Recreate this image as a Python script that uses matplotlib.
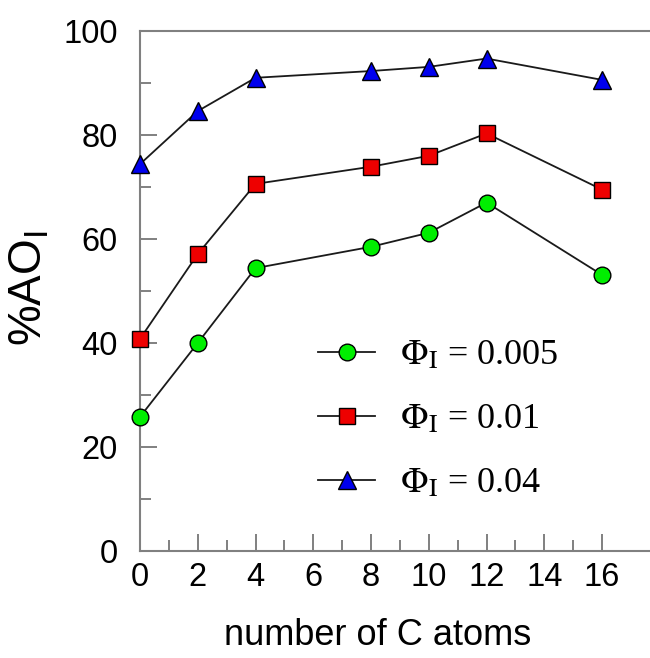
import matplotlib
matplotlib.use('Agg')
import matplotlib.pyplot as plt
from matplotlib.ticker import MultipleLocator

carbons = [0, 2, 4, 8, 10, 12, 16]
ao_0005 = [25.8, 40.0, 54.4, 58.5, 61.2, 67.0, 53.1]
ao_001 = [40.8, 57.1, 70.6, 73.9, 76.0, 80.3, 69.5]
ao_004 = [74.4, 84.6, 91.0, 92.3, 93.1, 94.7, 90.6]
labels = [r'$\Phi_{\mathrm{I}}$ = 0.005', r'$\Phi_{\mathrm{I}}$ = 0.01', r'$\Phi_{\mathrm{I}}$ = 0.04']

plt.rcParams['font.family'] = ['Liberation Sans', 'DejaVu Sans']
gray = '#808080'

fig = plt.figure(figsize=(6.5, 6.58), dpi=100)
ax = fig.add_axes([0.2154, 0.1626, 0.7846, 0.7903])

series = [(ao_0005, 'o', '#00ee00', 12), (ao_001, 's', '#ee0000', 11), (ao_004, '^', '#0000ee', 13)]
for (vals, mk, clr, ms), lab in zip(series, labels):
    ax.plot(carbons, vals, color='#1a1a1a', lw=1.3, marker=mk, ms=ms,
            mfc=clr, mec='black', mew=1.0, label=lab, clip_on=False, zorder=3)

ax.set_xlim(0, 17.66)
ax.set_ylim(0, 100)
ax.set_xticks(range(0, 17, 2))
ax.set_xticks(range(1, 16, 2), minor=True)
ax.yaxis.set_major_locator(MultipleLocator(20))
ax.yaxis.set_minor_locator(MultipleLocator(10))
ax.tick_params(which='both', direction='in', color=gray, width=1.4, labelsize=23.5)
ax.tick_params(which='major', length=12)
ax.tick_params(which='minor', length=8)
ax.tick_params(axis='x', pad=8)
ax.tick_params(axis='y', pad=16)
ax.spines['right'].set_visible(False)
for s in ['left', 'bottom', 'top']:
    ax.spines[s].set_color(gray)
    ax.spines[s].set_linewidth(1.5)

xl = ax.set_xlabel('number of C atoms', fontsize=26)
xl.set_va('center')
ax.xaxis.set_label_coords(0.466, -0.163)
yl = ax.set_ylabel(r'%AO$_{\mathrm{I}}$', fontsize=33)
yl.set_math_fontfamily('dejavusans')
yl.set_va('center')
ax.yaxis.set_label_coords(-0.216, 0.506)

leg = ax.legend(loc='upper left', bbox_to_anchor=(0.349, 0.407), frameon=False,
                prop={'family': 'Liberation Serif', 'size': 26}, handlelength=1.58,
                handletextpad=0.7, labelspacing=0.85, borderaxespad=0, borderpad=0)
for t in leg.get_texts():
    t.set_math_fontfamily('stix')

fig.savefig('out.png', dpi=100)
